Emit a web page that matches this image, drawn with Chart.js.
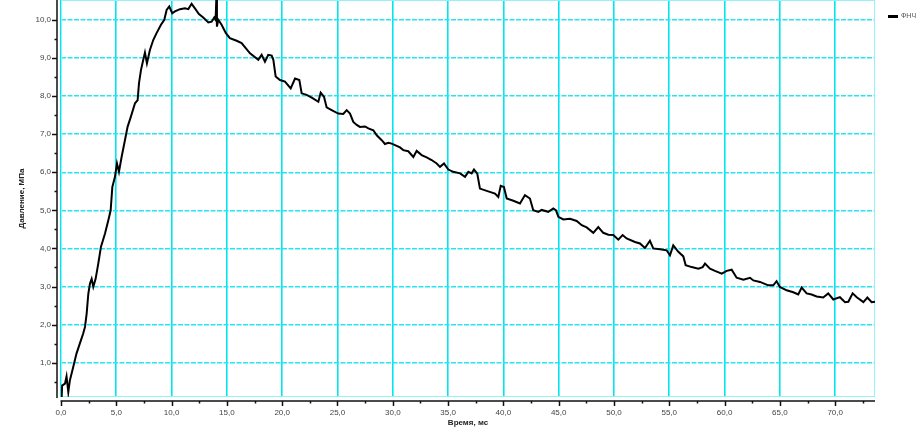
<!DOCTYPE html>
<html>
<head>
<meta charset="utf-8">
<script src="https://cdn.jsdelivr.net/npm/chart.js@4.4.1/dist/chart.umd.min.js"></script>
<style>
  html, body { margin: 0; padding: 0; background: #fff; }
  #wrap { width: 922px; height: 429px; }
</style>
</head>
<body>
<div id="wrap"><canvas id="myChart" width="922" height="429"></canvas></div>
<script>
// time, ms
const times = [
  0.06, 0.1, 0.36, 0.5, 0.66, 0.8, 1.1, 1.4, 1.7, 2.0, 2.17, 2.32, 2.47, 2.62, 2.77, 2.92,
  3.13, 3.37, 3.61, 3.98, 4.28, 4.49, 4.64, 4.88, 5.06, 5.24, 5.48, 5.78, 6.02, 6.32, 6.69,
  6.93, 7.05, 7.23, 7.44, 7.59, 7.77, 8.04, 8.34, 8.64, 9.04, 9.34, 9.55, 9.79, 10.06, 10.3,
  10.76, 11.21, 11.51, 11.81, 12.11, 12.47, 12.86, 13.32, 13.62, 13.86, 13.98, 14.04, 14.1,
  14.22, 14.52, 14.91, 15.27, 15.88, 16.33, 17.09, 17.84, 18.14, 18.44, 18.74, 19.05, 19.2,
  19.41, 19.8, 20.25, 20.77, 21.16, 21.55, 21.76, 22.21, 22.67, 23.27, 23.48, 23.78, 24.02,
  24.47, 25.07, 25.52, 25.83, 26.13, 26.43, 26.74, 27.03, 27.49, 27.79, 28.24, 28.55, 29.0,
  29.29, 29.6, 29.9, 30.2, 30.65, 30.95, 31.4, 31.86, 32.16, 32.61, 33.06, 33.51, 33.97,
  34.27, 34.63, 35.02, 35.47, 36.08, 36.53, 36.83, 37.13, 37.34, 37.64, 37.88, 38.49, 39.24,
  39.54, 39.76, 40.05, 40.3, 40.9, 41.5, 41.95, 42.4, 42.7, 43.16, 43.46, 44.06, 44.51,
  44.76, 44.97, 45.42, 46.02, 46.63, 47.08, 47.53, 48.13, 48.58, 49.03, 49.49, 49.94, 50.39,
  50.78, 51.14, 51.9, 52.35, 52.8, 53.25, 53.55, 54.16, 54.76, 55.06, 55.36, 55.82, 56.27,
  56.48, 57.03, 57.63, 58.02, 58.23, 58.68, 59.13, 59.74, 60.19, 60.64, 61.09, 61.7, 62.3,
  62.6, 63.2, 63.95, 64.4, 64.7, 65.0, 65.61, 66.21, 66.66, 66.97, 67.42, 67.87, 68.32,
  68.92, 69.37, 69.83, 70.43, 70.89, 71.19, 71.58, 71.95, 72.55, 72.91, 73.3, 73.6
];
// pressure, MPa (ФНЧ)
const pressure = [
  0.1, 0.4, 0.45, 0.64, 0.23, 0.53, 0.88, 1.24, 1.5, 1.76, 1.94, 2.29, 2.81, 3.08, 3.2, 2.99,
  3.2, 3.6, 4.04, 4.39, 4.74, 5.0, 5.61, 5.88, 6.23, 6.01, 6.4, 6.84, 7.19, 7.46, 7.81,
  7.89, 8.33, 8.68, 8.95, 9.14, 8.86, 9.21, 9.47, 9.65, 9.87, 10.0, 10.26, 10.35, 10.17, 10.22,
  10.28, 10.3, 10.28, 10.42, 10.3, 10.15, 10.06, 9.93, 9.95, 10.06, 10.0, 10.52, 9.82,
  10.0, 9.87, 9.65, 9.52, 9.45, 9.39, 9.12, 8.95, 9.08, 8.9, 9.08, 9.06, 8.95,
  8.51, 8.42, 8.38, 8.2, 8.46, 8.42, 8.07, 8.03, 7.96, 7.85, 8.09, 7.98, 7.7,
  7.63, 7.54, 7.53, 7.63, 7.54, 7.32, 7.24, 7.19, 7.2, 7.15, 7.1, 6.97, 6.84,
  6.74, 6.77, 6.75, 6.71, 6.65, 6.58, 6.55, 6.4, 6.56, 6.45, 6.39, 6.32, 6.23,
  6.14, 6.23, 6.07, 6.01, 5.97, 5.88, 6.01, 5.97, 6.07, 5.96, 5.57, 5.51, 5.44,
  5.35, 5.64, 5.61, 5.31, 5.25, 5.18, 5.4, 5.31, 5.0, 4.96, 5.01, 4.96, 5.05,
  5.0, 4.83, 4.76, 4.78, 4.72, 4.61, 4.55, 4.41, 4.56, 4.41, 4.36, 4.35, 4.23,
  4.35, 4.26, 4.17, 4.13, 4.01, 4.2, 4.0, 3.98, 3.95, 3.82, 4.08, 3.91, 3.79,
  3.56, 3.51, 3.47, 3.51, 3.6, 3.47, 3.41, 3.34, 3.41, 3.44, 3.23, 3.18, 3.23,
  3.16, 3.12, 3.03, 3.03, 3.14, 2.99, 2.9, 2.85, 2.79, 2.97, 2.82, 2.79, 2.74,
  2.71, 2.82, 2.66, 2.72, 2.59, 2.6, 2.82, 2.72, 2.59, 2.71, 2.59, 2.6
];
const xTicks = [0, 5, 10, 15, 20, 25, 30, 35, 40, 45, 50, 55, 60, 65, 70];
const xMinorTicks = [2.5, 7.5, 12.5, 17.5, 22.5, 27.5, 32.5, 37.5, 42.5, 47.5, 52.5, 57.5, 62.5, 67.5, 72.5];
const yTicks = [1, 2, 3, 4, 5, 6, 7, 8, 9, 10];
const yMinorTicks = [0.5, 1.5, 2.5, 3.5, 4.5, 5.5, 6.5, 7.5, 8.5, 9.5];

const labelFont = "Liberation Sans, Arial, sans-serif";

function commaLabel(v) {
  return Number(v).toFixed(1).replace(".", ",");
}

// cyan plot frame, black axes a few pixels outside it, legend at the right
const axisLines = {
  id: "axisLines",
  beforeDatasetsDraw(chart) {
    const ctx = chart.ctx;
    const a = chart.chartArea;
    ctx.save();
    ctx.strokeStyle = "rgb(150, 240, 248)";
    ctx.lineWidth = 1;
    ctx.strokeRect(a.left + 0.5, a.top + 0.5, a.right - a.left - 1, a.bottom - a.top - 1);
    ctx.restore();
  },
  afterDraw(chart) {
    const ctx = chart.ctx;
    const a = chart.chartArea;
    const xs = chart.scales.x;
    const ys = chart.scales.y;
    const axX = a.left - 4;
    const axY = a.bottom + 4;
    ctx.save();
    ctx.strokeStyle = "#111";
    ctx.lineWidth = 1.5;
    ctx.beginPath();
    ctx.moveTo(axX, a.top);
    ctx.lineTo(axX, a.bottom + 1);
    ctx.moveTo(a.left - 0.5, axY);
    ctx.lineTo(a.right, axY);
    yTicks.forEach((v) => {
      const y = Math.round(ys.getPixelForValue(v)) + 0.5;
      ctx.moveTo(axX - 5, y);
      ctx.lineTo(axX, y);
    });
    yMinorTicks.forEach((v) => {
      const y = Math.round(ys.getPixelForValue(v)) + 0.5;
      ctx.moveTo(axX - 2.5, y);
      ctx.lineTo(axX, y);
    });
    xTicks.forEach((v) => {
      const x = Math.round(xs.getPixelForValue(v)) + 0.5;
      ctx.moveTo(x, axY);
      ctx.lineTo(x, axY + 5);
    });
    xMinorTicks.forEach((v) => {
      const x = Math.round(xs.getPixelForValue(v)) + 0.5;
      ctx.moveTo(x, axY);
      ctx.lineTo(x, axY + 2.5);
    });
    ctx.stroke();

    // legend entry from the dataset itself
    const ds = chart.data.datasets[0];
    const lx = a.right + 13;
    const ly = 16.5;
    ctx.strokeStyle = ds.borderColor;
    ctx.lineWidth = 3;
    ctx.beginPath();
    ctx.moveTo(lx, ly);
    ctx.lineTo(lx + 10, ly);
    ctx.stroke();
    ctx.fillStyle = "#555";
    ctx.font = "7px " + labelFont;
    ctx.textBaseline = "middle";
    ctx.fillText(ds.label, lx + 13, ly);
    ctx.restore();
  }
};

const points = times.map((t, i) => ({ x: t, y: pressure[i] }));

const config = {
  type: "line",
  data: {
    datasets: [
      {
        label: "ФНЧ",
        data: points,
        borderColor: "#000",
        backgroundColor: "#000",
        borderWidth: 2,
        pointRadius: 0,
        tension: 0,
      },
    ],
  },
  options: {
    responsive: false,
    animation: false,
    layout: { autoPadding: false, padding: { left: 0, right: 47, top: 0, bottom: 0 } },
    plugins: {
      tooltip: { enabled: false },
      legend: { display: false },
    },
    scales: {
      x: {
        type: "linear",
        min: 0,
        max: 73.6,
        afterBuildTicks: (scale) => {
          scale.ticks = xTicks.map((v) => ({ value: v }));
        },
        afterFit: (scale) => {
          scale.height = 32;
          scale.paddingLeft = 0;
          scale.paddingRight = 0;
        },
        ticks: {
          padding: 11,
          color: "#444",
          font: { family: labelFont, size: 8 },
          callback: (v) => commaLabel(v),
          maxRotation: 0,
        },
        grid: {
          color: "rgb(0, 230, 240)",
          lineWidth: 1.6,
          drawTicks: false,
        },
        border: { display: false },
        title: {
          display: true,
          text: "Время, мс",
          color: "#222",
          font: { family: labelFont, size: 8, weight: "bold" },
          padding: { top: 0, bottom: 1 },
        },
      },
      y: {
        type: "linear",
        min: 0.1,
        max: 10.52,
        afterBuildTicks: (scale) => {
          scale.ticks = yTicks.map((v) => ({ value: v }));
        },
        afterFit: (scale) => {
          scale.width = 61;
          scale.paddingTop = 0;
          scale.paddingBottom = 0;
        },
        ticks: {
          padding: 10,
          color: "#444",
          font: { family: labelFont, size: 8 },
          callback: (v) => commaLabel(v),
        },
        grid: {
          color: "rgb(40, 228, 240)",
          lineWidth: 1.4,
          drawTicks: false,
        },
        border: { display: false, dash: [5, 1.5] },
        title: {
          display: true,
          text: "Давление, МПа",
          color: "#222",
          font: { family: labelFont, size: 8, weight: "bold" },
          padding: { top: 17, bottom: 0 },
        },
      },
    },
  },
  plugins: [axisLines],
};

const myChart = document.getElementById("myChart");
new Chart(myChart, config);
</script>
</body>
</html>
